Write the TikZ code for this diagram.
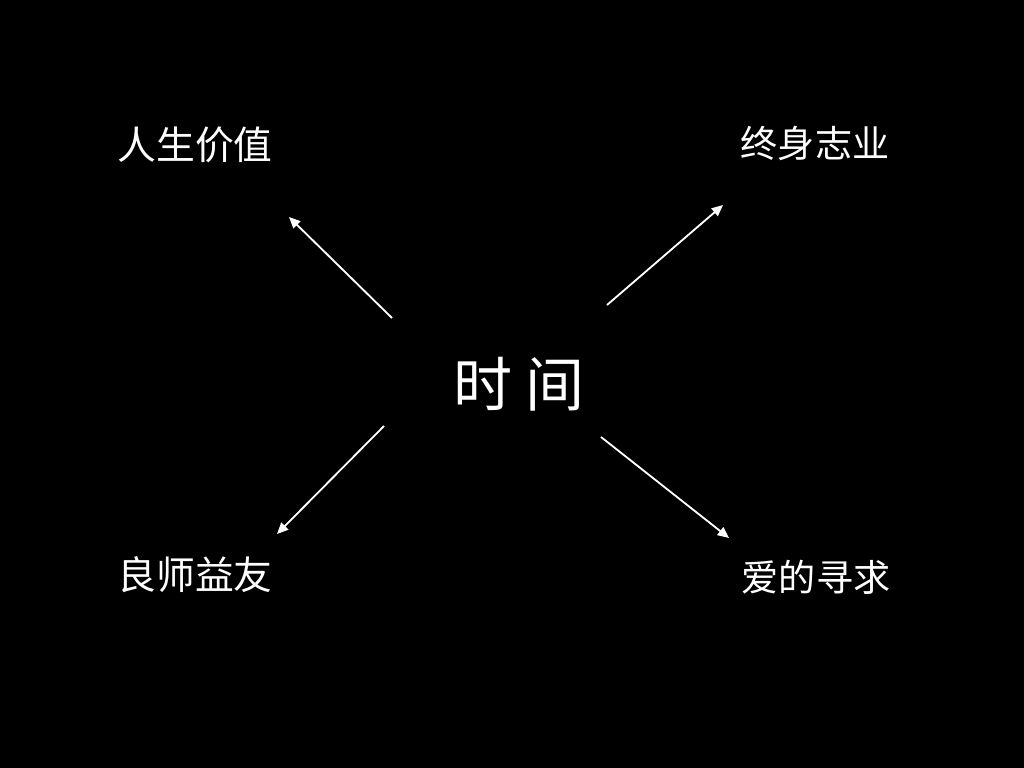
\documentclass[tikz,border=0pt]{standalone}
\usepackage{fontspec}
\newfontfamily\cjk{Noto Sans CJK SC}
\usetikzlibrary{arrows.meta}

\begin{document}
\begin{tikzpicture}[x=0.025cm,y=-0.025cm,
  label/.style={text=white,inner sep=0pt,font={\cjk\fontsize{27.6}{30}\selectfont}},
  small label/.style={label,font={\cjk\fontsize{26.4}{30}\selectfont}},
  link/.style={white,line width=1.3pt,-{Triangle[length=8pt,width=7pt]}}]
\fill[black] (0,0) rectangle (1024,768);
\useasboundingbox (0,0) rectangle (1024,768);

\node[label,font={\cjk\fontsize{42}{46}\selectfont}] (time) at (519,384) {时 间};

\node[label] (value) at (195,145) {人生价值};
\node[small label] (career) at (815,143) {终身志业};
\node[label] (mentor) at (195,575) {良师益友};
\node[small label] (love) at (816,577) {爱的寻求};

% arrow ends
\coordinate (nw1) at (392,318); \coordinate (nw2) at (289,217);
\coordinate (ne1) at (607,305); \coordinate (ne2) at (723,205);
\coordinate (sw1) at (384,426); \coordinate (sw2) at (277,534);
\coordinate (se1) at (601,437); \coordinate (se2) at (729,538);

\draw[link] (nw1) -- (nw2);
\draw[link] (ne1) -- (ne2);
\draw[link] (sw1) -- (sw2);
\draw[link] (se1) -- (se2);
\end{tikzpicture}
\end{document}
